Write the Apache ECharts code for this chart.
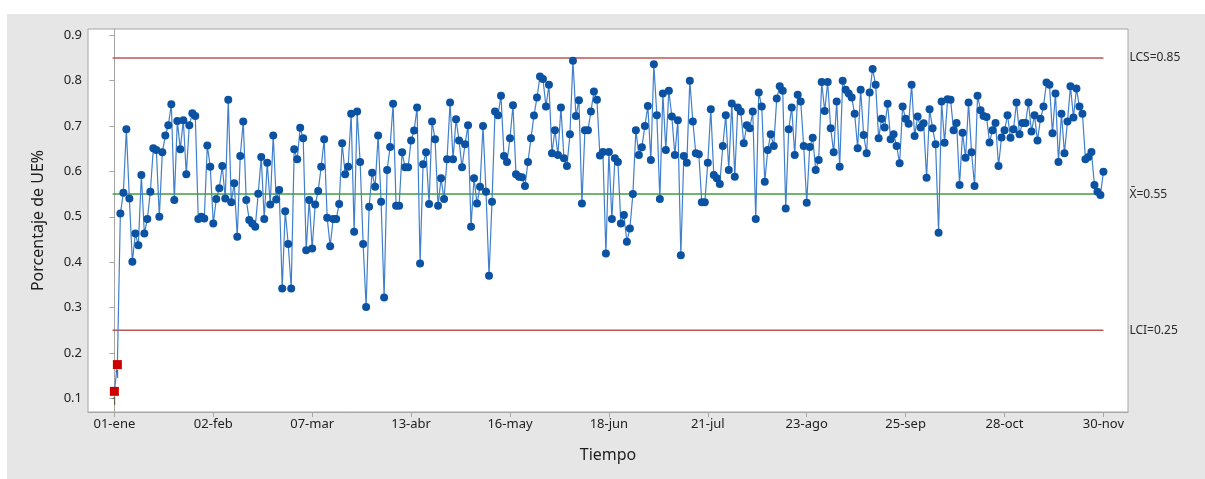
<!DOCTYPE html>
<html>
<head>
<meta charset="utf-8">
<title>Gráfica I de UE%</title>
<script src="https://cdn.jsdelivr.net/npm/echarts@6/dist/echarts.min.js"></script>
<style>
  html, body { margin: 0; padding: 0; background: #fff; }
  #chart_ue { width: 1205px; height: 479px; }
</style>
</head>
<body>
<div id="chart_ue"></div>
<script>
// etiquetas del eje X (cada 33 observaciones)
var tickLabels = ['01-ene', '02-feb', '07-mar', '13-abr', '16-may', '18-jun', '21-jul', '23-ago', '25-sep', '28-oct', '30-nov'];
var tickStep = 33;
var yTicks = [0.1, 0.2, 0.3, 0.4, 0.5, 0.6, 0.7, 0.8, 0.9];

// limites de control
var LCS = 0.85;
var media = 0.55;
var LCI = 0.25;

// observaciones fuera de control (indice) y la prueba que fallan
var fueraControl = [0, 1];
var pruebaFallida = ['1', '1'];

// porcentaje de UE por observacion
var porcentajeUE = [
    0.115, 0.174, 0.507, 0.553, 0.693, 0.540, 0.401, 0.463, 0.437, 0.592,
    0.463, 0.495, 0.555, 0.651, 0.647, 0.500, 0.642, 0.679, 0.702, 0.748,
    0.537, 0.711, 0.649, 0.713, 0.594, 0.702, 0.728, 0.722, 0.495, 0.500,
    0.496, 0.657, 0.610, 0.485, 0.539, 0.563, 0.612, 0.540, 0.758, 0.532,
    0.574, 0.456, 0.634, 0.710, 0.537, 0.493, 0.485, 0.478, 0.551, 0.632,
    0.495, 0.619, 0.527, 0.679, 0.538, 0.559, 0.342, 0.512, 0.440, 0.342,
    0.649, 0.627, 0.696, 0.673, 0.426, 0.537, 0.430, 0.527, 0.557, 0.610,
    0.671, 0.498, 0.435, 0.495, 0.495, 0.528, 0.662, 0.594, 0.610,
    0.727, 0.467, 0.732, 0.621, 0.440, 0.301, 0.522, 0.597, 0.566, 0.679,
    0.533, 0.322, 0.603, 0.654, 0.749, 0.524, 0.524, 0.642, 0.609, 0.609,
    0.668, 0.690, 0.741, 0.397, 0.616, 0.642, 0.528, 0.710, 0.671, 0.524,
    0.585, 0.539, 0.627, 0.752, 0.627, 0.715, 0.668, 0.609, 0.660,
    0.702, 0.478, 0.585, 0.529, 0.566, 0.700, 0.555, 0.370, 0.533, 0.732,
    0.724, 0.767, 0.634, 0.621, 0.673, 0.746, 0.594, 0.588, 0.587, 0.568,
    0.621, 0.673, 0.723, 0.763, 0.809, 0.804, 0.743, 0.791, 0.640, 0.691,
    0.636, 0.741, 0.629, 0.612, 0.682, 0.844, 0.722, 0.757,
    0.529, 0.691, 0.691, 0.732, 0.776,
    0.758, 0.635, 0.643, 0.419, 0.643, 0.495, 0.629, 0.621, 0.485,
    0.504, 0.445, 0.474, 0.550, 0.691, 0.636, 0.653, 0.700, 0.744, 0.625,
    0.836, 0.724, 0.539, 0.772, 0.647, 0.778, 0.721, 0.636, 0.713, 0.415,
    0.634, 0.619, 0.800, 0.710, 0.640, 0.638, 0.532, 0.532, 0.619, 0.737,
    0.592, 0.585, 0.572, 0.656, 0.724, 0.603, 0.750, 0.588, 0.741, 0.732,
    0.662, 0.702, 0.695, 0.732, 0.495, 0.774, 0.743, 0.577, 0.647, 0.682,
    0.656, 0.761, 0.788, 0.778, 0.518, 0.693, 0.741, 0.636, 0.769, 0.754,
    0.656, 0.531, 0.654, 0.674, 0.603, 0.625, 0.797, 0.733, 0.797, 0.695,
    0.642, 0.754, 0.610, 0.800,
    0.780, 0.772, 0.763, 0.727, 0.651, 0.780, 0.680, 0.640, 0.774, 0.826,
    0.791, 0.673, 0.716, 0.697, 0.749, 0.671, 0.682, 0.656, 0.618, 0.743,
    0.716, 0.705, 0.791, 0.678, 0.721, 0.697, 0.706, 0.586, 0.737, 0.695,
    0.660, 0.465, 0.754, 0.663, 0.759, 0.758, 0.691, 0.707, 0.570, 0.685,
    0.630, 0.752, 0.642, 0.568, 0.767, 0.735, 0.722, 0.720, 0.664, 0.691,
    0.707, 0.612, 0.675, 0.691, 0.724, 0.674, 0.693, 0.752, 0.682, 0.707,
    0.707, 0.752, 0.688, 0.724, 0.668, 0.716, 0.743, 0.796, 0.791, 0.684,
    0.772, 0.621, 0.727, 0.640, 0.710, 0.788, 0.719, 0.783, 0.743, 0.727,
    0.627, 0.632, 0.643, 0.570, 0.555, 0.548, 0.599
];

var FONT = 'Noto Sans';
var lastIdx = porcentajeUE.length - 1;

var serieData = [];
var fueraData = [];
for (var i = 0; i < porcentajeUE.length; i++) {
    var pos = fueraControl.indexOf(i);
    if (pos >= 0) {
        serieData.push({ value: [i, porcentajeUE[i]], symbol: 'none' });
        fueraData.push({ value: [i, porcentajeUE[i]], prueba: pruebaFallida[pos] });
    } else {
        serieData.push([i, porcentajeUE[i]]);
    }
}

var xTicks = [];
for (var k = 0; k < tickLabels.length; k++) xTicks.push(k * tickStep);

function limitLine(valor, color, texto) {
    return {
        type: 'line',
        data: [[-0.6, valor], [lastIdx, valor]],
        symbol: 'none',
        silent: true,
        z: 1,
        lineStyle: { color: color, width: 1.5 },
        endLabel: {
            show: true,
            formatter: texto,
            distance: 26,
            color: '#2b2b2b',
            fontSize: 12,
            fontFamily: FONT
        }
    };
}

var myChart = echarts.init(document.getElementById('chart_ue'));
var option = {
    backgroundColor: '#fff',
    animation: false,
    graphic: [{
        type: 'rect',
        z: -10,
        shape: { x: 7, y: 14, width: 1205, height: 479 },
        style: { fill: '#e6e6e6' }
    }],
    grid: {
        left: 88, right: 77, top: 29, bottom: 67,
        show: true,
        backgroundColor: '#fff',
        borderColor: '#a6a6a6',
        borderWidth: 1
    },
    xAxis: {
        type: 'value',
        min: -8.8,
        max: 338.2,
        name: 'Tiempo',
        nameLocation: 'middle',
        nameGap: 35,
        nameTextStyle: { fontSize: 16, color: '#1e1e1e', fontFamily: FONT },
        axisLine: { show: true, lineStyle: { color: '#a6a6a6' } },
        axisTick: { show: true, length: 5, customValues: xTicks, lineStyle: { color: '#a6a6a6' } },
        axisLabel: {
            customValues: xTicks,
            color: '#222', fontSize: 13, fontFamily: FONT, margin: 6,
            formatter: function (v) { return tickLabels[Math.round(v / tickStep)]; }
        },
        splitLine: { show: false }
    },
    yAxis: {
        type: 'value',
        min: 0.0695,
        max: 0.914,
        name: 'Porcentaje de UE%',
        nameLocation: 'middle',
        nameGap: 42,
        nameTextStyle: { fontSize: 16, color: '#1e1e1e', fontFamily: FONT },
        axisLine: { show: true, lineStyle: { color: '#a6a6a6' } },
        axisTick: { show: true, length: 5, customValues: yTicks, lineStyle: { color: '#a6a6a6' } },
        axisLabel: {
            customValues: yTicks,
            color: '#222', fontSize: 13, fontFamily: FONT, margin: 6,
            formatter: function (v) { return v.toFixed(1); }
        },
        splitLine: { show: false }
    },
    series: [
        limitLine(LCS, '#bf5555', 'LCS=0.85'),
        limitLine(media, '#3f9f3f', 'X\u0304=0.55'),
        limitLine(LCI, '#bf5555', 'LCI=0.25'),
        {
            name: 'UE%',
            type: 'line',
            data: serieData,
            z: 3,
            symbol: 'circle',
            symbolSize: 8,
            showAllSymbol: true,
            lineStyle: { color: '#3f7fcc', width: 1.2 },
            itemStyle: { color: '#0b52a3' }
        },
        {
            name: 'Fuera de control',
            type: 'scatter',
            data: fueraData,
            z: 4,
            symbol: 'rect',
            symbolSize: 9,
            itemStyle: { color: '#cc0000', opacity: 1 },
            label: {
                show: true,
                position: 'bottom',
                distance: 0,
                formatter: function (p) { return p.data.prueba; },
                color: '#5a4e28',
                fontSize: 11,
                fontFamily: FONT
            },
            labelLayout: { hideOverlap: false }
        }
    ]
};
myChart.setOption(option);
</script>
</body>
</html>
